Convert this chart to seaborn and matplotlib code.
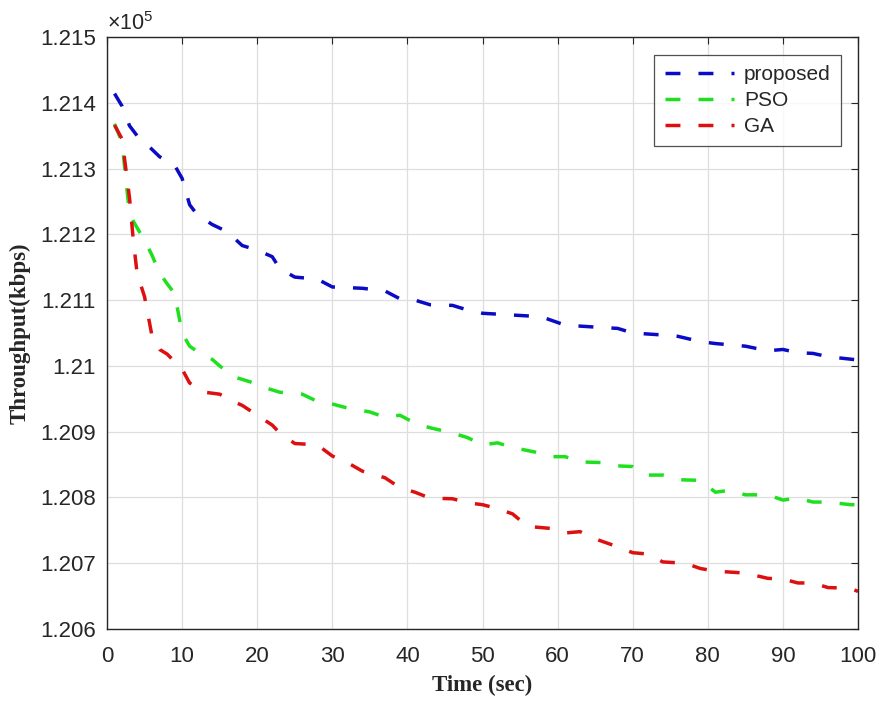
import matplotlib
matplotlib.use("Agg")
import matplotlib.pyplot as plt
from matplotlib.ticker import FuncFormatter, MultipleLocator
import pandas as pd
import seaborn as sns

# values (kbps)
proposed_x = [1, 2, 3, 4, 5, 7, 9, 10, 11, 12, 14, 16, 18, 20, 22, 23, 25, 28, 30,
              34, 37, 39, 41, 43, 46, 48, 50, 56, 58, 61, 65, 68, 70, 74, 76, 79,
              81, 85, 88, 90, 92, 94, 96, 100]
proposed_y = [121414, 121395, 121365, 121350, 121340, 121318, 121305, 121285,
              121245, 121230, 121215, 121204, 121183, 121176, 121166, 121148,
              121135, 121132, 121120, 121118, 121114, 121102, 121100, 121093,
              121092, 121085, 121080, 121076, 121074, 121062, 121059, 121057,
              121050, 121047, 121045, 121037, 121034, 121030, 121023, 121025,
              121020, 121019, 121014, 121009]

pso_x = [1, 2, 3, 4, 5, 6, 7, 8, 9, 10, 11, 12, 14, 15, 17, 19, 21, 23, 26, 28,
         30, 32, 35, 37, 39, 41, 43, 46, 48, 50, 52, 54, 57, 59, 61, 63, 66, 68,
         70, 72, 74, 76, 79, 81, 83, 85, 88, 90, 92, 94, 96, 99, 100]
pso_y = [121368, 121340, 121230, 121210, 121191, 121168, 121141, 121125, 121110,
         121050, 121030, 121022, 121010, 121000, 120983, 120976, 120967, 120960,
         120957, 120946, 120942, 120936, 120930, 120922, 120925, 120913, 120906,
         120898, 120891, 120880, 120883, 120876, 120869, 120862, 120862, 120854,
         120853, 120848, 120847, 120834, 120834, 120827, 120826, 120808, 120811,
         120804, 120804, 120796, 120799, 120793, 120793, 120789, 120789]

ga_x = [1, 2, 3, 3.5, 4, 5, 6, 7, 8, 10, 11, 13, 15, 17, 18, 20, 22, 23, 25, 28,
        30, 32, 34, 37, 39, 41, 43, 46, 48, 50, 52, 54, 56, 59, 61, 63, 65, 68,
        70, 72, 74, 77, 79, 81, 85, 88, 90, 92, 94, 96, 99, 100]
ga_y = [121366, 121345, 121255, 121191, 121141, 121105, 121045, 121025, 121018,
        120995, 120974, 120960, 120957, 120945, 120940, 120925, 120910, 120898,
        120882, 120880, 120863, 120853, 120840, 120830, 120815, 120808, 120799,
        120798, 120792, 120789, 120783, 120775, 120756, 120753, 120746, 120748,
        120737, 120725, 120716, 120714, 120702, 120700, 120692, 120688, 120685,
        120677, 120676, 120670, 120670, 120663, 120662, 120657]

series = ["proposed", "PSO", "GA"]
colors = {"proposed": "#0b0bc6", "PSO": "#1fe01f", "GA": "#dd1010"}

df = pd.concat([
    pd.DataFrame({"time": proposed_x, "throughput": proposed_y, "method": "proposed"}),
    pd.DataFrame({"time": pso_x, "throughput": pso_y, "method": "PSO"}),
    pd.DataFrame({"time": ga_x, "throughput": ga_y, "method": "GA"}),
])

sns.set_style("white")
plt.rcParams["font.family"] = ["Liberation Sans", "DejaVu Sans"]
plt.rcParams["mathtext.fontset"] = "custom"
plt.rcParams["mathtext.rm"] = "Liberation Sans"

fig = plt.figure(figsize=(8.83, 7.01), dpi=100)
ax = fig.add_axes([0.1212, 0.1027, 0.8505, 0.8445])

for m in series:
    sub = df[df["method"] == m]
    sns.lineplot(data=sub, x="time", y="throughput", color=colors[m], label=m,
                 estimator=None, sort=True, linewidth=2.5,
                 linestyle=(0, (4.3, 5.2)), ax=ax)

ax.set_xlim(0, 100)
ax.set_ylim(120600, 121500)
ax.xaxis.set_major_locator(MultipleLocator(10))
ax.yaxis.set_major_locator(MultipleLocator(100))
ax.yaxis.set_major_formatter(FuncFormatter(lambda v, p: f"{v / 1e5:g}"))
ax.grid(True, color="#dedede", linewidth=0.9)
ax.set_axisbelow(True)

for s in ax.spines.values():
    s.set_color("#262626")
    s.set_linewidth(1.0)
ax.tick_params(direction="in", top=True, right=True, length=5, width=0.8,
               colors="#262626", labelsize=16)
ax.tick_params(axis="x", pad=12)
ax.tick_params(axis="y", pad=8)

ax.text(0.0, 1.003, r"$\times10^{5}$", transform=ax.transAxes,
        fontsize=15.5, color="#262626", ha="left", va="bottom")

ax.set_xlabel("Time (sec)", family="Liberation Serif", fontweight="bold",
              fontsize=16.5, labelpad=6)
ax.set_ylabel("Throughput(kbps)", family="Liberation Serif", fontweight="bold",
              fontsize=16.5, labelpad=7)

leg = ax.legend(loc="upper right", bbox_to_anchor=(0.9775, 0.97), fontsize=15,
                frameon=True, fancybox=False, handlelength=3.3,
                handletextpad=0.5, borderpad=0.5, labelspacing=0.33,
                borderaxespad=0)
leg.get_frame().set_edgecolor("#262626")
leg.get_frame().set_linewidth(0.9)

fig.savefig("out.png", dpi=100, facecolor="white")
